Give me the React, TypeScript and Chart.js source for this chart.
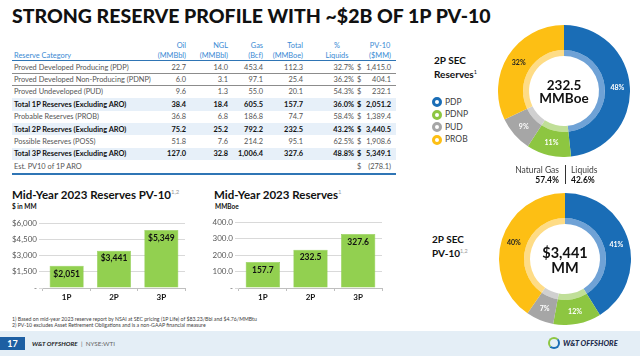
import React, { useEffect, useRef } from "react";
import { Chart, registerables } from "chart.js";
Chart.register(...registerables);

const FONT = "Lato, 'Open Sans', sans-serif";

// ---------- Data ----------
const titleText = "STRONG RESERVE PROFILE WITH ~$2B OF 1P PV-10";

const reserveCategories = [
  "Proved Developed Producing (PDP)",
  "Proved Developed Non-Producing (PDNP)",
  "Proved Undeveloped (PUD)",
  "Total 1P Reserves (Excluding ARO)",
  "Probable Reserves (PROB)",
  "Total 2P Reserves (Excluding ARO)",
  "Possible Reserves (POSS)",
  "Total 3P Reserves (Excluding ARO)",
  "Est. PV10 of 1P ARO",
];
const oilMMBbl = ["22.7", "6.0", "9.6", "38.4", "36.8", "75.2", "51.8", "127.0", ""];
const nglMMBbl = ["14.0", "3.1", "1.3", "18.4", "6.8", "25.2", "7.6", "32.8", ""];
const gasBcf = ["453.4", "97.1", "55.0", "605.5", "186.8", "792.2", "214.2", "1,006.4", ""];
const totalMMBoe = ["112.3", "25.4", "20.1", "157.7", "74.7", "232.5", "95.1", "327.6", ""];
const pctLiquids = ["32.7%", "36.2%", "54.3%", "36.0%", "58.4%", "43.2%", "62.5%", "48.8%", ""];
const pv10MM = ["1,415.0", "404.1", "232.1", "2,051.2", "1,389.4", "3,440.5", "1,908.6", "5,349.1", "(278.1)"];
const boldRows = [false, false, false, true, false, true, false, true, false];

const barCategories = ["1P", "2P", "3P"];
const pv10Values = [2051, 3441, 5349];
const reserveValues = [157.7, 232.5, 327.6];
const pv10AxisMax = 6000;
const pv10AxisStep = 1500;
const reserveAxisMax = 400;
const reserveAxisStep = 100;

const donutLabels = ["PDP", "PDNP", "PUD", "PROB"];
const reservesByCategory = [112.3, 25.4, 20.1, 74.7];
const pv10ByCategory = [1415.0, 404.1, 232.1, 1389.4];
const donutColors = ["#1A6DB6", "#8DC641", "#A6A6A6", "#FDBF14"];
const donutInnerColors = ["#6FA2D6", "#C0DF98", "#D0D0D0", "#FEDC86"];
const donutLabelColors = ["#FFFFFF", "#FFFFFF", "#FFFFFF", "#222222"];

const gasShare = "57.4%";
const liquidsShare = "42.6%";

// ---------- Charts ----------
function BarChart(props: {
  left: number; top: number; width: number; height: number; axisWidth: number; padRight: number;
  values: number[]; max: number; step: number; tickFmt: (v: number) => string; labelFmt: (v: number) => string;
}) {
  const ref = useRef<HTMLCanvasElement>(null);
  useEffect(() => {
    const labelPlugin = {
      id: "barValueLabels",
      afterDatasetsDraw(chart: any) {
        const ctx = chart.ctx;
        const meta = chart.getDatasetMeta(0);
        ctx.save();
        ctx.font = `bold 8.5px ${FONT}`;
        ctx.fillStyle = "#111111";
        ctx.textAlign = "center";
        ctx.textBaseline = "middle";
        meta.data.forEach((bar: any, i: number) => {
          ctx.fillText(props.labelFmt(props.values[i]), bar.x, bar.y + 8);
        });
        ctx.restore();
      },
    };
    const chart = new Chart(ref.current!, {
      type: "bar",
      data: {
        labels: barCategories,
        datasets: [
          {
            data: props.values,
            backgroundColor: "#92D050",
            borderColor: "#84C443",
            borderWidth: 0.5,
            categoryPercentage: 1,
            barPercentage: 0.72,
          },
        ],
      },
      options: {
        animation: false,
        responsive: false,
        maintainAspectRatio: false,
        layout: { padding: { top: 8, right: props.padRight, left: 0, bottom: 0 } },
        plugins: { legend: { display: false }, tooltip: { enabled: false } },
        scales: {
          x: {
            grid: { drawOnChartArea: false, drawTicks: true, tickLength: 3, color: "#BFBFBF", offset: true },
            border: { display: true, color: "#BFBFBF" },
            ticks: { color: "#111111", font: { family: FONT, size: 8, weight: "bold" }, padding: 2 },
            afterFit: (s: any) => { s.height = 17; },
          },
          y: {
            min: 0,
            max: props.max,
            ticks: {
              stepSize: props.step,
              color: "#595959",
              font: { family: FONT, size: 8 },
              padding: 2,
              callback: (v: any) => props.tickFmt(Number(v)),
            },
            grid: { color: "#D9D9D9", tickLength: 4, drawTicks: true },
            border: { display: false },
            afterFit: (s: any) => { s.width = props.axisWidth; },
          },
        },
      } as any,
      plugins: [labelPlugin],
    });
    return () => chart.destroy();
  }, []);
  return (
    <canvas
      ref={ref}
      width={props.width}
      height={props.height}
      style={{ position: "absolute", left: props.left, top: props.top, width: props.width, height: props.height }}
    />
  );
}

function DonutChart(props: { left: number; top: number; size: number; values: number[] }) {
  const ref = useRef<HTMLCanvasElement>(null);
  useEffect(() => {
    const pctPlugin = {
      id: "donutPctLabels",
      afterDatasetsDraw(chart: any) {
        const ctx = chart.ctx;
        const meta = chart.getDatasetMeta(0);
        const total = props.values.reduce((a, b) => a + b, 0);
        ctx.save();
        ctx.font = `bold 7px ${FONT}`;
        ctx.textAlign = "center";
        ctx.textBaseline = "middle";
        meta.data.forEach((arc: any, i: number) => {
          const p = arc.tooltipPosition();
          ctx.fillStyle = donutLabelColors[i];
          ctx.fillText(Math.round((props.values[i] / total) * 100) + "%", p.x, p.y);
        });
        ctx.restore();
      },
    };
    const chart = new Chart(ref.current!, {
      type: "doughnut",
      data: {
        labels: donutLabels,
        datasets: [
          { data: props.values, backgroundColor: donutColors, borderWidth: 0, weight: 25 },
          { data: props.values, backgroundColor: donutInnerColors, borderWidth: 0, weight: 6 },
        ],
      },
      options: {
        animation: false,
        responsive: false,
        maintainAspectRatio: false,
        cutout: "53%",
        layout: { padding: 0 },
        plugins: { legend: { display: false }, tooltip: { enabled: false } },
      } as any,
      plugins: [pctPlugin],
    });
    return () => chart.destroy();
  }, []);
  return (
    <canvas
      ref={ref}
      width={props.size}
      height={props.size}
      style={{ position: "absolute", left: props.left, top: props.top, width: props.size, height: props.size }}
    />
  );
}

// ---------- Layout helpers ----------
const abs = (s: React.CSSProperties): React.CSSProperties => ({ position: "absolute", whiteSpace: "nowrap", ...s });

const colRights = [186, 228, 263, 303, 354];
const dollarLeft = 357;
const pvRight = 391;
const tableTop = 61;
const rowH = 12.4;

function Table() {
  const hdrStyle: React.CSSProperties = { color: "#3A8AD4", fontSize: 7.4, fontFamily: FONT };
  const headers = [
    ["Oil", "(MMBbl)"],
    ["NGL", "(MMBbl)"],
    ["Gas", "(Bcf)"],
    ["Total", "(MMBoe)"],
  ];
  const cols = [oilMMBbl, nglMMBbl, gasBcf, totalMMBoe, pctLiquids];
  return (
    <>
      {headers.map((h, i) => (
        <React.Fragment key={i}>
          <div style={abs({ ...hdrStyle, left: colRights[i] - 60, width: 60, textAlign: "right", top: 41 })}>{h[0]}</div>
          <div style={abs({ ...hdrStyle, left: colRights[i] - 60, width: 60, textAlign: "right", top: 50.5 })}>{h[1]}</div>
        </React.Fragment>
      ))}
      <div style={abs({ ...hdrStyle, left: 315, width: 44, textAlign: "center", top: 41 })}>%</div>
      <div style={abs({ ...hdrStyle, left: 315, width: 44, textAlign: "center", top: 50.5 })}>Liquids</div>
      <div style={abs({ ...hdrStyle, left: 362, width: 36, textAlign: "center", top: 41 })}>PV-10</div>
      <div style={abs({ ...hdrStyle, left: 362, width: 36, textAlign: "center", top: 50.5 })}>($MM)</div>
      <div style={abs({ ...hdrStyle, left: 14, top: 50.5 })}>Reserve Category</div>
      <div style={abs({ left: 12, width: 384, top: tableTop - 1.5, height: 1.5, background: "#2F75B5" })} />
      {reserveCategories.map((cat, r) => {
        const top = tableTop + r * rowH;
        const bold = boldRows[r];
        const rs: React.CSSProperties = {
          fontFamily: FONT,
          fontSize: 7.4,
          fontWeight: bold ? 700 : 400,
          color: bold ? "#111111" : "#555555",
          top: top + 1.6,
        };
        return (
          <React.Fragment key={r}>
            {bold && <div style={abs({ left: 12, width: 384, top, height: rowH, background: "#E7F0F9" })} />}
            {(r === 0 || r === 1) && (
              <div style={abs({ left: 12, width: 384, top: top + rowH - 0.5, height: 1, background: "#8C8C8C" })} />
            )}
            <div style={abs({ ...rs, left: 14 })}>{cat}</div>
            {cols.map((c, ci) => (
              <div key={ci} style={abs({ ...rs, left: colRights[ci] - 50, width: 50, textAlign: "right" })}>{c[r]}</div>
            ))}
            <div style={abs({ ...rs, left: dollarLeft })}>$</div>
            <div style={abs({ ...rs, left: pvRight - 40, width: 40, textAlign: "right" })}>{pv10MM[r]}</div>
          </React.Fragment>
        );
      })}
      <div style={abs({ left: 12, width: 384, top: tableTop + 9 * rowH, height: 2, background: "#2F75B5" })} />
    </>
  );
}

export default function App() {
  const bold: React.CSSProperties = { fontFamily: FONT, fontWeight: 700, color: "#111111" };
  return (
    <div style={{ position: "absolute", left: 0, top: 0, width: 640, height: 356, background: "#FFFFFF", overflow: "hidden", fontFamily: FONT }}>
      {/* Title */}
      <div style={abs({ ...bold, fontWeight: 900, left: 12, top: 4, fontSize: 19.5, letterSpacing: 0 })}>{titleText}</div>

      <Table />

      {/* Bar chart titles */}
      <div style={abs({ ...bold, left: 12, top: 188, fontSize: 11.5 })}>
        Mid-Year 2023 Reserves PV-10<sup style={{ fontSize: 6, fontWeight: 400, color: "#999", verticalAlign: 5 }}>1,2</sup>
      </div>
      <div style={abs({ ...bold, left: 12, top: 203, fontSize: 6.5 })}>$ in MM</div>
      <div style={abs({ ...bold, left: 214, top: 188, fontSize: 11.5 })}>
        Mid-Year 2023 Reserves<sup style={{ fontSize: 6, fontWeight: 400, color: "#999", verticalAlign: 5 }}>1</sup>
      </div>
      <div style={abs({ ...bold, left: 215, top: 203, fontSize: 6.5 })}>MMBoe</div>

      <BarChart
        left={0} top={215} width={195} height={90} axisWidth={43} padRight={10}
        values={pv10Values} max={pv10AxisMax} step={pv10AxisStep}
        tickFmt={(v) => (v === 0 ? "-" : "$" + v.toLocaleString("en-US"))}
        labelFmt={(v) => "$" + v.toLocaleString("en-US")}
      />
      <BarChart
        left={195} top={214} width={195} height={91} axisWidth={44} padRight={8}
        values={reserveValues} max={reserveAxisMax} step={reserveAxisStep}
        tickFmt={(v) => (v === 0 ? "-" : v.toFixed(1))}
        labelFmt={(v) => v.toFixed(1)}
      />

      {/* Top donut */}
      <div style={abs({ ...bold, left: 434, top: 55, fontSize: 10, lineHeight: "11.5px" })}>
        2P SEC<br />Reserves<sup style={{ fontSize: 5.5, fontWeight: 400, verticalAlign: 4 }}>1</sup>
      </div>
      {donutLabels.map((l, i) => (
        <React.Fragment key={l}>
          <div style={abs({ left: 432, top: 97 + i * 12.6, width: 4, height: 4, borderRadius: "50%", border: `3px solid ${donutColors[i]}`, background: "#fff" })} />
          <div style={abs({ left: 445, top: 96.5 + i * 12.6, fontSize: 8.5, color: "#404040", fontFamily: FONT })}>{l}</div>
        </React.Fragment>
      ))}
      <DonutChart left={498} top={25} size={132} values={reservesByCategory} />
      <div style={abs({ ...bold, left: 514, width: 100, textAlign: "center", top: 79, fontSize: 13.5, lineHeight: "13px" })}>
        232.5<br />MMBoe
      </div>

      <div style={abs({ left: 500, width: 59, textAlign: "right", top: 164.5, fontSize: 8.5, color: "#404040", lineHeight: "10px" })}>
        Natural Gas<br /><b style={{ color: "#111" }}>{gasShare}</b>
      </div>
      <div style={abs({ left: 564.5, top: 165, width: 1, height: 19, background: "#333" })} />
      <div style={abs({ left: 571, top: 164.5, fontSize: 8.5, color: "#404040", lineHeight: "10px" })}>
        Liquids<br /><b style={{ color: "#111" }}>{liquidsShare}</b>
      </div>

      {/* Bottom donut */}
      <div style={abs({ ...bold, left: 432, top: 234, fontSize: 10, lineHeight: "11.5px" })}>
        2P SEC<br />PV-10<sup style={{ fontSize: 5.5, fontWeight: 400, color: "#999", verticalAlign: 4 }}>1,2</sup>
      </div>
      <DonutChart left={499} top={193} size={132} values={pv10ByCategory} />
      <div style={abs({ ...bold, left: 515, width: 100, textAlign: "center", top: 245, fontSize: 14.5, lineHeight: "15px" })}>
        $3,441<br />MM
      </div>

      {/* Footnotes */}
      <div style={abs({ left: 12, top: 316, fontSize: 5.2, color: "#404040", lineHeight: "6.3px" })}>
        1) Based on mid-year 2023 reserve report by NSAI at SEC pricing (1P Life) of $83.23/Bbl and $4.76/MMBtu<br />
        2) PV-10 excludes Asset Retirement Obligations and is a non-GAAP financial measure
      </div>

      {/* Footer */}
      <div style={abs({ left: 0, top: 331, width: 640, height: 25, background: "#E4EEF6" })} />
      <div style={abs({ left: 0, top: 337, width: 25, height: 13, background: "#1D5FA3" })} />
      <div style={abs({ left: 0, top: 337, width: 25, height: 13, color: "#fff", fontWeight: 700, fontSize: 9, textAlign: "center", lineHeight: "13px" })}>17</div>
      <div style={abs({ left: 32, top: 339.5, fontSize: 6.3, color: "#1a1a1a", lineHeight: "8px" })}>
        <b><i>W&amp;T OFFSHORE</i></b><span style={{ color: "#666" }}>&nbsp; | &nbsp;NYSE:WTI</span>
      </div>
      <div style={abs({ left: 548, top: 337, width: 8, height: 8, borderRadius: "50%", border: "2.5px solid #1A6DB6", borderTopColor: "#8DC641", borderLeftColor: "#8DC641" })} />
      <div style={abs({ left: 563, top: 339, fontSize: 7.5, color: "#1B2A4A", fontWeight: 900, fontStyle: "italic", lineHeight: "9px" })}>W&amp;T OFFSHORE</div>
    </div>
  );
}
